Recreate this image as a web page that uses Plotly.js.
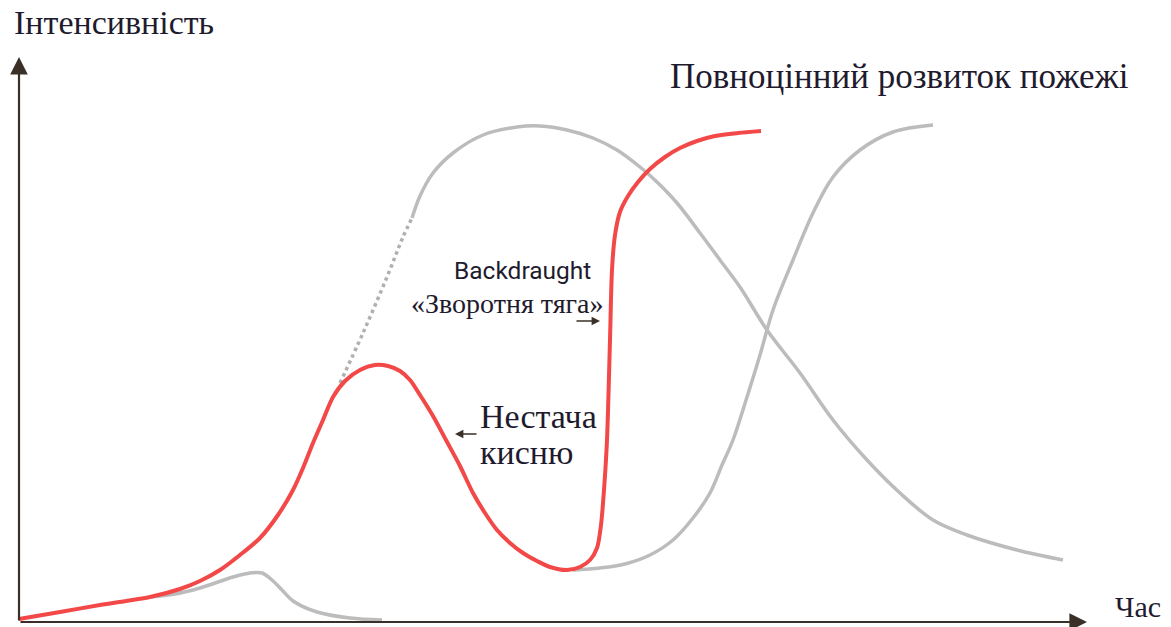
<!DOCTYPE html>
<html>
<head>
<meta charset="utf-8">
<script src="https://cdn.plot.ly/plotly-3.0.1.min.js"></script>
<style>
  html, body { margin: 0; padding: 0; background: #ffffff; }
  #chart { width: 1171px; height: 627px; }
</style>
</head>
<body>
<div id="chart"></div>
<script>
// Fire development stages: intensity against time (schematic units).

// Under-ventilated fire that runs short of oxygen, then backdraught
const redTime = [0, 41, 81, 131, 161, 181, 201, 221, 241, 259, 274, 284, 294, 304, 314, 326, 341, 356, 369, 381, 391, 401, 414, 427, 441, 454, 466, 478, 491, 504, 518, 531, 548, 561, 571, 578, 582, 585, 588, 591, 593, 596, 601, 609, 619, 631, 646, 661, 678, 696, 719, 742];
const redIntensity = [3, 10, 17, 25, 33, 41, 52, 67, 84, 107, 132, 154, 179, 202, 225, 241, 252, 257, 256, 251, 242, 227, 206, 182, 156, 129, 109, 92, 79, 69, 61, 55, 52, 55, 62, 74, 97, 132, 182, 282, 352, 387, 410, 426, 440, 453, 465, 474, 481, 486, 489, 491];

// Small fire that dies out on its own
const smallTime = [131, 156, 181, 214, 231, 243, 253, 263, 274, 298, 331, 363];
const smallIntensity = [25, 28, 34, 45, 49, 49, 42, 32, 21, 10, 4, 2];

// Expected growth if oxygen had been sufficient (dotted link)
const linkTime = [321, 344, 368, 384, 393];
const linkIntensity = [239, 289, 345, 385, 404];

// Fully developed fire: growth and decay
const fullTime = [393, 401, 414, 434, 464, 498, 521, 548, 574, 598, 621, 638, 658, 681, 701, 721, 748, 781, 814, 848, 881, 914, 948, 998, 1044];
const fullIntensity = [404, 426, 449, 469, 487, 495, 496, 492, 484, 472, 455, 440, 419, 389, 362, 335, 292, 249, 202, 162, 129, 102, 87, 72, 62];

// Fully developed fire after backdraught
const lateTime = [554, 581, 606, 631, 654, 674, 691, 703, 714, 728, 741, 754, 774, 794, 814, 841, 874, 914];
const lateIntensity = [52, 54, 58, 67, 82, 104, 129, 157, 182, 225, 267, 312, 362, 409, 445, 472, 490, 497];

// Text labels
const labelYAxis = 'Інтенсивність';
const labelXAxis = 'Час';
const labelFull = 'Повноцінний розвиток пожежі';
const labelBackdraughtEn = 'Backdraught';
const labelBackdraughtUa = '«Зворотня тяга»';
const labelOxygen1 = 'Нестача';
const labelOxygen2 = 'кисню';

const RED = '#f24848';
const GREY = '#bcbcbc';
const INK = '#1f1b2e';
const AXIS = '#3a3027';
const SERIF = 'Liberation Serif, DejaVu Serif, serif';
const SANS = 'Roboto, Liberation Sans, sans-serif';

const greyLine = { color: GREY, width: 3.5, shape: 'spline', smoothing: 1 };

const traces = [
  { x: smallTime, y: smallIntensity, mode: 'lines', line: greyLine, hoverinfo: 'skip' },
  { x: linkTime, y: linkIntensity, mode: 'lines', line: { color: '#b0b0b0', width: 3.5, dash: 'dot', shape: 'spline' }, hoverinfo: 'skip' },
  { x: fullTime, y: fullIntensity, mode: 'lines', line: greyLine, hoverinfo: 'skip' },
  { x: lateTime, y: lateIntensity, mode: 'lines', line: greyLine, hoverinfo: 'skip' },
  { x: redTime, y: redIntensity, mode: 'lines', line: { color: RED, width: 4, shape: 'spline', smoothing: 0.8 }, hoverinfo: 'skip' }
];

function arrow(x0, y0, x1, y1, width, size) {
  return {
    x: x1, y: y1, ax: x0, ay: y0,
    xref: 'x', yref: 'y', axref: 'x', ayref: 'y',
    text: '', showarrow: true,
    arrowhead: 2, arrowsize: size, arrowwidth: width, arrowcolor: AXIS
  };
}

function label(text, x, y, size, family, xanchor) {
  return {
    x: x, y: y, xref: 'x', yref: 'y', text: text, showarrow: false,
    xanchor: xanchor || 'left', yanchor: 'middle',
    font: { family: family || SERIF, size: size, color: INK }
  };
}

const annotations = [
  // axes with arrowheads
  arrow(0, 0, 0, 565, 2.2, 1.6),
  arrow(0, 0, 1068, 0, 2.2, 1.6),
  // pointers
  arrow(556, 301, 581, 301, 1.4, 1.2),
  arrow(459, 188, 436, 188, 1.4, 1.2),
  // texts
  label(labelYAxis, -7, 600, 34),
  label(labelXAxis, 1094, 16, 30),
  label(labelFull, 649, 546, 35),
  label(labelBackdraughtEn, 574, 352, 24.5, SANS, 'right'),
  label(labelBackdraughtUa, 586, 319, 28, SERIF, 'right'),
  label(labelOxygen1, 459, 206, 34),
  label(labelOxygen2, 459, 170, 34)
];

const layout = {
  width: 1171, height: 627,
  margin: { l: 0, r: 0, t: 0, b: 0 },
  paper_bgcolor: '#ffffff', plot_bgcolor: '#ffffff',
  showlegend: false,
  xaxis: { range: [-19, 1152], visible: false, fixedrange: true },
  yaxis: { range: [-5, 622], visible: false, fixedrange: true },
  annotations: annotations
};

Plotly.newPlot('chart', traces, layout, { staticPlot: true, displayModeBar: false });
</script>
</body>
</html>
